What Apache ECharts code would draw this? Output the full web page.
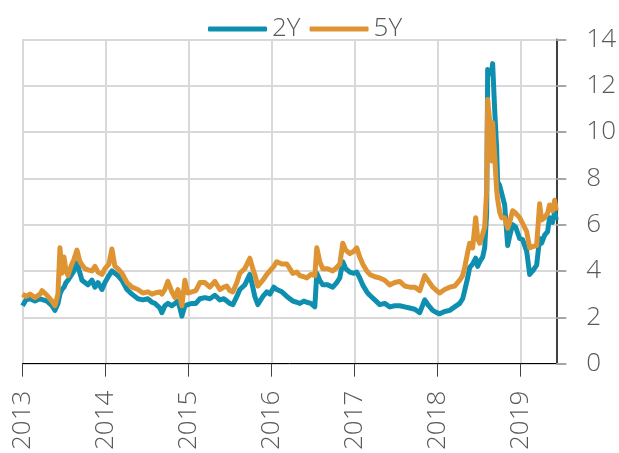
<!DOCTYPE html>
<html>
<head>
<meta charset="utf-8">
<script src="https://cdn.jsdelivr.net/npm/echarts@6.0.0/dist/echarts.min.js"></script>
<style>
  html, body { margin: 0; padding: 0; background: #fff; }
  #chart { width: 619px; height: 453px; }
</style>
</head>
<body>
<div id="chart"></div>
<script>
// time in decimal years
var years = [
  2013.000, 2013.042, 2013.090, 2013.150, 2013.211, 2013.235, 2013.295, 2013.355, 2013.391, 2013.427,
  2013.451, 2013.475, 2013.500, 2013.524, 2013.548, 2013.584, 2013.620, 2013.656, 2013.692, 2013.716,
  2013.752, 2013.788, 2013.837, 2013.873, 2013.909, 2013.957, 2013.993, 2014.041, 2014.077, 2014.113,
  2014.149, 2014.198, 2014.258, 2014.318, 2014.390, 2014.450, 2014.511, 2014.559, 2014.595, 2014.655,
  2014.679, 2014.715, 2014.751, 2014.799, 2014.836, 2014.872, 2014.896, 2014.920, 2014.956, 2014.992,
  2015.040, 2015.088, 2015.137, 2015.196, 2015.257, 2015.317, 2015.377, 2015.425, 2015.461, 2015.497,
  2015.534, 2015.582, 2015.618, 2015.678, 2015.738, 2015.774, 2015.798, 2015.835, 2015.895, 2015.943,
  2015.979, 2016.027, 2016.063, 2016.124, 2016.184, 2016.220, 2016.256, 2016.304, 2016.341, 2016.389,
  2016.425, 2016.473, 2016.521, 2016.545, 2016.581, 2016.617, 2016.677, 2016.737, 2016.785, 2016.822,
  2016.858, 2016.894, 2016.942, 2016.990, 2017.026, 2017.062, 2017.098, 2017.147, 2017.183, 2017.243,
  2017.303, 2017.363, 2017.423, 2017.484, 2017.544, 2017.604, 2017.664, 2017.724, 2017.785, 2017.845,
  2017.893, 2017.941, 2017.989, 2018.025, 2018.085, 2018.146, 2018.206, 2018.266, 2018.302, 2018.326,
  2018.362, 2018.386, 2018.422, 2018.459, 2018.483, 2018.507, 2018.543, 2018.567, 2018.591, 2018.603,
  2018.627, 2018.651, 2018.663, 2018.687, 2018.711, 2018.723, 2018.747, 2018.771, 2018.808, 2018.844,
  2018.868, 2018.904, 2018.940, 2018.988, 2019.024, 2019.073, 2019.109, 2019.145, 2019.193, 2019.229,
  2019.253, 2019.289, 2019.325, 2019.349, 2019.385, 2019.410, 2019.430
]

var y2 = [
  2.5, 2.75, 2.8, 2.7, 2.8, 2.85, 2.7, 2.5, 2.3, 2.6,
  3.0, 3.2, 3.3, 3.5, 3.6, 3.8, 4.0, 4.35, 3.9, 3.6,
  3.5, 3.4, 3.6, 3.3, 3.5, 3.2, 3.5, 3.8, 4.0, 3.9,
  3.8, 3.6, 3.2, 3.0, 2.8, 2.75, 2.8, 2.65, 2.6, 2.4,
  2.2, 2.5, 2.6, 2.5, 2.6, 2.7, 2.4, 2.05, 2.5, 2.55,
  2.6, 2.6, 2.8, 2.85, 2.8, 2.95, 2.75, 2.8, 2.7, 2.6,
  2.55, 2.9, 3.2, 3.4, 3.85, 3.3, 2.9, 2.55, 2.9, 3.1,
  3.0, 3.3, 3.2, 3.1, 2.9, 2.8, 2.7, 2.65, 2.6, 2.7,
  2.65, 2.6, 2.45, 3.9, 3.6, 3.4, 3.4, 3.3, 3.5, 3.7,
  4.4, 4.1, 3.95, 3.9, 3.95, 3.7, 3.4, 3.1, 2.95, 2.75,
  2.55, 2.6, 2.45, 2.5, 2.5, 2.45, 2.4, 2.35, 2.2, 2.75,
  2.5, 2.3, 2.2, 2.15, 2.25, 2.3, 2.45, 2.6, 2.8, 3.15,
  3.7, 4.15, 4.3, 4.55, 4.2, 4.4, 4.6, 5.0, 6.5, 12.7,
  12.5, 12.6, 12.95, 11.0, 9.3, 7.85, 7.7, 7.65, 6.85, 5.1,
  5.5, 6.0, 5.9, 5.4, 5.35, 4.85, 3.85, 4.0, 4.25, 5.4,
  5.2, 5.55, 5.7, 6.3, 6.1, 6.55, 6.2
]

var y5 = [
  3.0, 2.9, 3.0, 2.85, 3.0, 3.15, 2.95, 2.7, 2.5, 3.0,
  5.0, 3.9, 4.6, 4.0, 3.8, 4.2, 4.5, 4.9, 4.4, 4.27,
  4.1, 4.05, 4.0, 4.2, 3.95, 3.85, 4.1, 4.3, 4.95, 4.2,
  4.1, 3.9, 3.5, 3.3, 3.2, 3.05, 3.1, 3.0, 3.05, 3.1,
  3.0, 3.2, 3.55, 3.1, 2.85, 3.2, 2.9, 2.5, 3.6, 3.05,
  3.1, 3.15, 3.5, 3.5, 3.3, 3.55, 3.2, 3.3, 3.35, 3.15,
  3.1, 3.5, 3.9, 4.1, 4.55, 4.1, 3.85, 3.35, 3.6, 3.85,
  4.0, 4.2, 4.4, 4.3, 4.3, 4.1, 3.9, 3.95, 3.8, 3.75,
  3.7, 3.85, 3.8, 5.0, 4.4, 4.1, 4.1, 4.0, 4.15, 4.3,
  5.2, 4.9, 4.75, 4.85, 5.0, 4.6, 4.3, 4.0, 3.85, 3.75,
  3.7, 3.6, 3.4, 3.5, 3.55, 3.35, 3.3, 3.3, 3.15, 3.8,
  3.55, 3.3, 3.15, 3.05, 3.2, 3.3, 3.35, 3.6, 3.8, 4.15,
  4.8, 5.2, 5.0, 6.3, 5.4, 5.2, 5.6, 5.9, 7.5, 11.4,
  10.5, 8.75, 10.4, 9.0, 7.5, 7.1, 6.55, 6.3, 6.3, 5.85,
  6.1, 6.6, 6.5, 6.3, 6.05, 5.7, 5.0, 5.05, 5.1, 6.9,
  6.2, 6.3, 6.5, 6.85, 6.6, 7.05, 6.6
]

var yearTicks = [2013, 2014, 2015, 2016, 2017, 2018, 2019]

var seriesNames = ['2Y', '5Y']
var colors = ['#0f8fb0', '#df9434']

var textFont = '"Open Sans", "Liberation Sans", sans-serif'
var textColor = '#595959'

var chart = echarts.init(document.getElementById('chart'))

var option = {
  animation: false,
  backgroundColor: '#fff',
  color: colors,
  legend: {
    data: seriesNames,
    left: 203,
    top: 11,
    icon: 'roundRect',
    itemWidth: 59,
    itemHeight: 5,
    itemGap: 9,
    textStyle: {
      fontFamily: textFont,
      fontSize: 26,
      fontWeight: 300,
      color: textColor,
      padding: [0, 0, 0, 0]
    }
  },
  grid: {
    left: 22.5,
    right: 62.4,
    top: 39.3,
    bottom: 85
  },
  xAxis: {
    type: 'value',
    min: 2013,
    max: 2019.43,
    interval: 1,
    axisLine: { show: true, lineStyle: { color: '#000', width: 1 } },
    axisTick: {
      show: true,
      length: 13,
      customValues: yearTicks,
      lineStyle: { color: '#404040', width: 1 }
    },
    axisLabel: {
      rotate: 90,
      margin: 27,
      customValues: yearTicks,
      fontFamily: textFont,
      fontSize: 26,
      fontWeight: 300,
      color: textColor,
      formatter: function(v) {
        return String(v)
      }
    },
    splitLine: { show: true, lineStyle: { color: '#d9d9d9', width: 2 } }
  },
  yAxis: {
    type: 'value',
    position: 'right',
    min: 0,
    max: 14,
    interval: 2,
    axisLine: { show: true, lineStyle: { color: '#000', width: 1.5 } },
    axisTick: { show: true, length: 10, lineStyle: { color: '#a6a6a6', width: 2 } },
    axisLabel: {
      margin: 30,
      fontFamily: textFont,
      fontSize: 26,
      fontWeight: 300,
      color: textColor
    },
    splitLine: { show: true, lineStyle: { color: '#d9d9d9', width: 2 } }
  },
  series: [
    {
      name: '2Y',
      type: 'line',
      showSymbol: false,
      symbol: 'none',
      lineStyle: { width: 5, color: colors[0], join: 'round' },
      data: years.map(function(t, i) { return [t, y2[i]] })
    },
    {
      name: '5Y',
      type: 'line',
      showSymbol: false,
      symbol: 'none',
      lineStyle: { width: 5, color: colors[1], join: 'round' },
      data: years.map(function(t, i) { return [t, y5[i]] })
    }
  ]
}

chart.setOption(option)
</script>
</body>
</html>
